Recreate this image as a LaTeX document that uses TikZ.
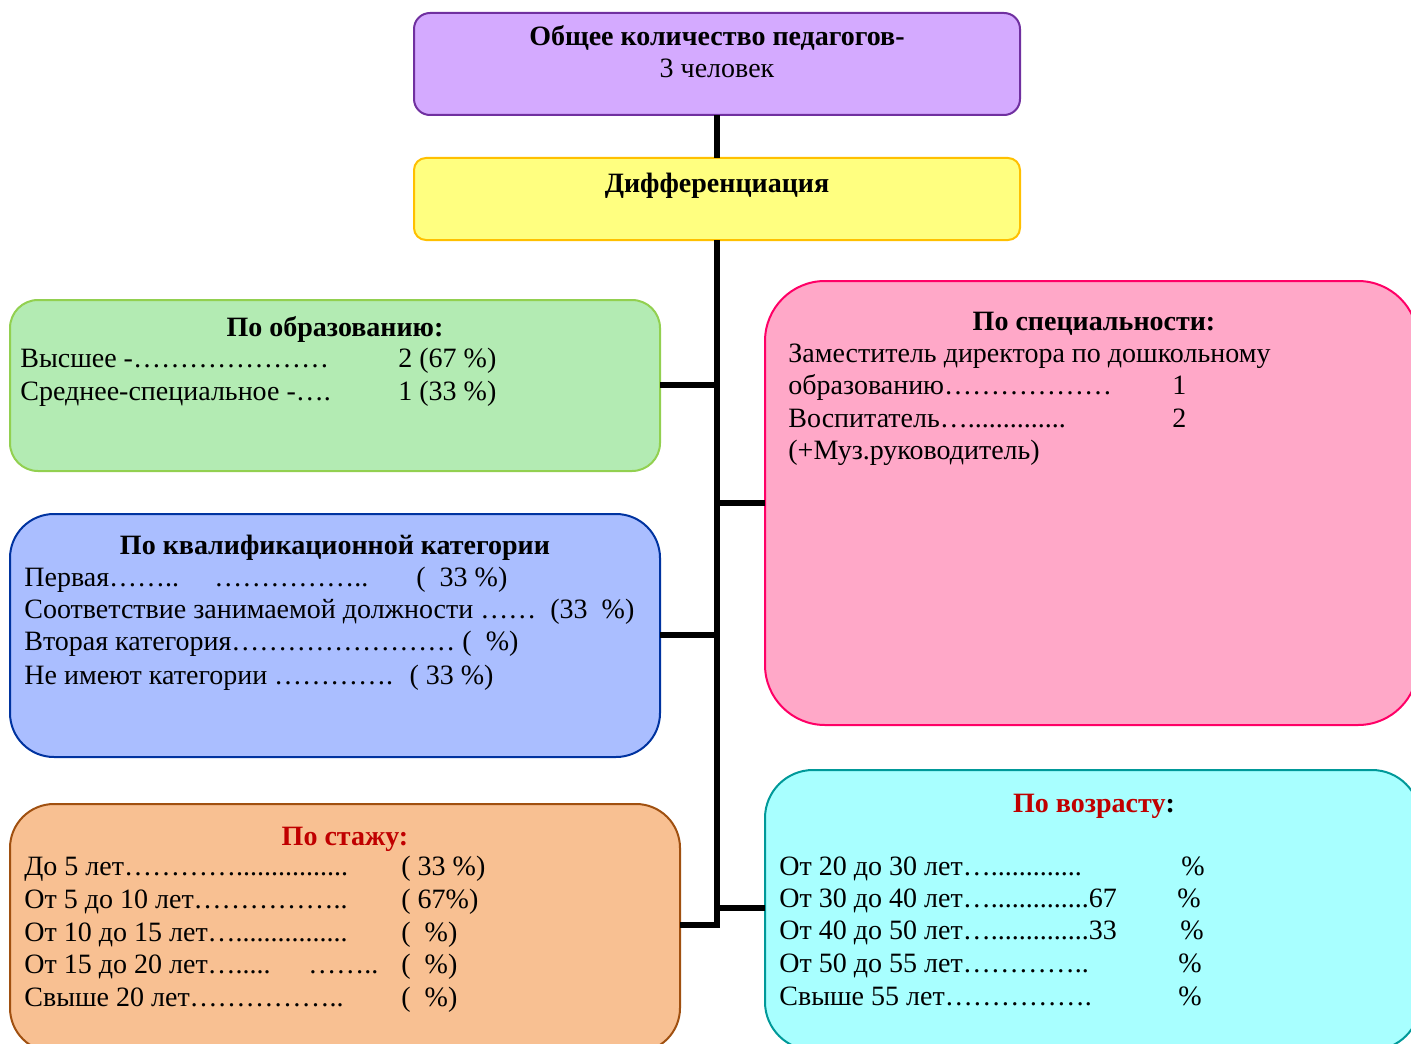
\documentclass[tikz,border=0pt]{standalone}
\usepackage{fontspec}
\setmainfont{Liberation Serif}
\definecolor{purpfill}{RGB}{212,170,255}
\definecolor{purpline}{RGB}{112,48,160}
\definecolor{yelfill}{RGB}{255,255,128}
\definecolor{yelline}{RGB}{255,192,0}
\definecolor{grnfill}{RGB}{179,235,179}
\definecolor{grnline}{RGB}{146,208,80}
\definecolor{pnkfill}{RGB}{255,168,200}
\definecolor{pnkline}{RGB}{255,0,102}
\definecolor{blufill}{RGB}{170,190,255}
\definecolor{bluline}{RGB}{0,51,160}
\definecolor{orgfill}{RGB}{248,192,146}
\definecolor{orgline}{RGB}{160,80,16}
\definecolor{cyafill}{RGB}{168,255,255}
\definecolor{cyaline}{RGB}{0,153,153}
\definecolor{ttlred}{RGB}{192,0,0}
\begin{document}
\begin{tikzpicture}[x=0.5pt,y=-0.5pt,
  box/.style={line width=1pt, inner sep=0pt, outer sep=0pt},
  txt/.style={anchor=base west, inner sep=0pt, font=\fontsize{14}{17}\selectfont},
  ttl/.style={anchor=base, inner sep=0pt, font=\fontsize{14}{17}\selectfont\bfseries},
  conn/.style={line width=2.6pt, line cap=butt}]
\useasboundingbox (0,0) rectangle (1411,1043);
% boxes
\draw[box, fill=purpfill, draw=purpline, rounded corners=8pt] (414,13) rectangle (1020,115);
\coordinate (topS) at (717,115);
\draw[box, fill=yelfill, draw=yelline, rounded corners=6pt] (414,158) rectangle (1020,240);
\coordinate (difN) at (717,158);
\coordinate (difS) at (717,240);
\draw[box, fill=grnfill, draw=grnline, rounded corners=14pt] (10,300) rectangle (660,471);
\coordinate (eduE) at (660,385);
\draw[box, fill=pnkfill, draw=pnkline, rounded corners=30pt] (765,281) rectangle (1418,725);
\coordinate (speW) at (765,503);
\draw[box, fill=blufill, draw=bluline, rounded corners=22pt] (10,514) rectangle (660,757);
\coordinate (catE) at (660,635);
\draw[box, fill=orgfill, draw=orgline, rounded corners=22pt] (10,804) rectangle (680,1052);
\coordinate (staE) at (680,925);
\draw[box, fill=cyafill, draw=cyaline, rounded corners=24pt] (765,770) rectangle (1420,1050);
\coordinate (ageW) at (765,908);
% trunk
\coordinate (t1) at (717,385);
\coordinate (t2) at (717,503);
\coordinate (t3) at (717,635);
\coordinate (t4) at (717,908);
\coordinate (t5) at (717,925);
\draw[conn] (topS) -- (difN);
\draw[conn] (difS) -- (t5) -- (staE);
\draw[conn] (eduE) -- (t1);
\draw[conn] (t2) -- (speW);
\draw[conn] (catE) -- (t3);
\draw[conn] (t4) -- (ageW);
% texts top
\node[ttl] (a1) at (717,46) {Общее количество педагогов-};
\node[ttl, font=\fontsize{14}{17}\selectfont] (a2) at (717,78) {3 человек};
\node[ttl] (b1) at (717,192) {Дифференциация};
% green
\node[ttl] (c0) at (335,336) {По образованию:};
\node[txt] (c1) at (20,367) {Высшее -…………………};
\node[txt] (c1v) at (398,367) {2 (67 \%)};
\node[txt] (c2) at (20,400) {Среднее-специальное -….};
\node[txt] (c2v) at (398,400) {1 (33 \%)};
% pink
\node[ttl] (d0) at (1094,330) {По специальности:};
\node[txt] (d1) at (788,362) {Заместитель директора по дошкольному};
\node[txt] (d2) at (788,394) {образованию………………};
\node[txt] (d2v) at (1172,394) {1};
\node[txt] (d3) at (788,427) {Воспитатель…..............};
\node[txt] (d3v) at (1172,427) {2};
\node[txt] (d4) at (788,459) {(+Муз.руководитель)};
% blue
\node[ttl] (e0) at (335,554) {По квалификационной категории};
\node[txt] (e1) at (24,586) {Первая……..};
\node[txt] (e1b) at (214,586) {……………..};
\node[txt] (e1v) at (416,586) {(~ 33 \%)};
\node[txt] (e2) at (24,618) {Соответствие занимаемой должности ……~ (33~ \%)};
\node[txt] (e3) at (24,650) {Вторая категория…………………… (~ \%)};
\node[txt] (e4) at (24,684) {Не имеют категории ………….~ ( 33 \%)};
% orange
\node[ttl, text=ttlred] (f0) at (345,845) {По стажу:};
\node[txt] (f1) at (24,875) {До 5 лет…………................};
\node[txt] (f1v) at (401,875) {( 33 \%)};
\node[txt] (f2) at (24,908) {От 5 до 10 лет……………..};
\node[txt] (f2v) at (401,908) {( 67\%)};
\node[txt] (f3) at (24,941) {От 10 до 15 лет…................};
\node[txt] (f3v) at (401,941) {(~ \%)};
\node[txt] (f4) at (24,973) {От 15 до 20 лет….....};
\node[txt] (f4b) at (308,973) {……..};
\node[txt] (f4v) at (401,973) {(~ \%)};
\node[txt] (f5) at (24,1006) {Свыше 20 лет……………..};
\node[txt] (f5v) at (401,1006) {(~ \%)};
% cyan
\node[ttl] (g0) at (1094,812) {\textcolor{ttlred}{По возрасту}:};
\node[txt] (g1) at (779,875) {От 20 до 30 лет….............};
\node[txt] (g1v) at (1181,875) {\%};
\node[txt] (g2) at (779,907) {От 30 до 40 лет…..............67};
\node[txt] (g2v) at (1177,907) {\%};
\node[txt] (g3) at (779,939) {От 40 до 50 лет…..............33};
\node[txt] (g3v) at (1180,939) {\%};
\node[txt] (g4) at (779,972) {От 50 до 55 лет…………..};
\node[txt] (g4v) at (1178,972) {\%};
\node[txt] (g5) at (779,1005) {Свыше 55 лет…………….};
\node[txt] (g5v) at (1178,1005) {\%};
\end{tikzpicture}
\end{document}
